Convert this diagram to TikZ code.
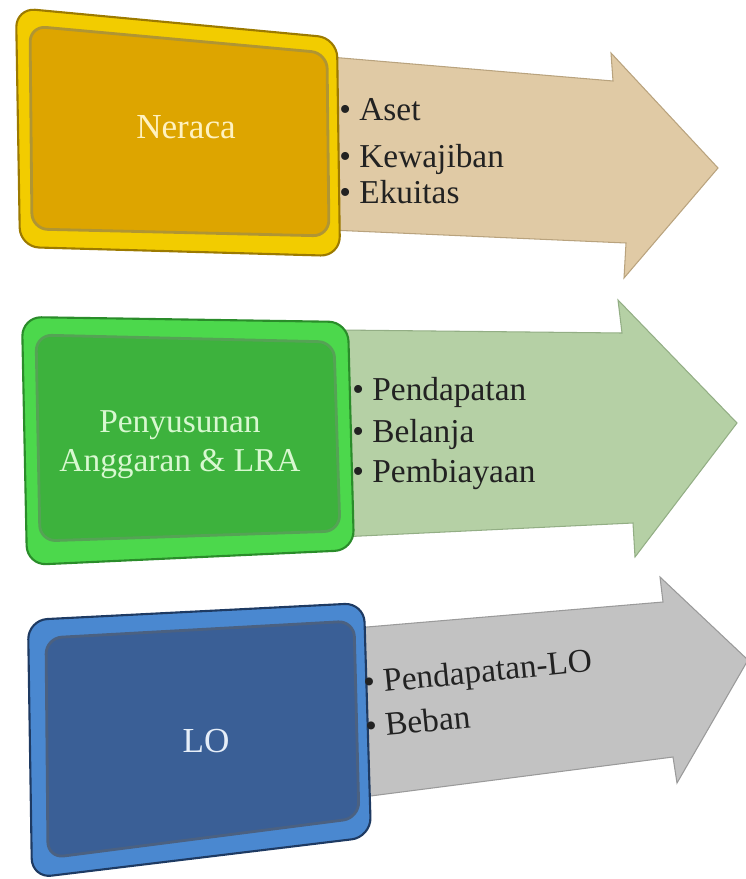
\documentclass[tikz,border=0pt]{standalone}
\usepackage{fontspec}
\setmainfont{Liberation Serif}
\usepackage{tikz}
\definecolor{goldrim}{HTML}{F2CC00}
\definecolor{golddark}{HTML}{9C7A00}
\definecolor{goldface}{HTML}{DDA500}
\definecolor{goldtext}{HTML}{FFF2C0}
\definecolor{tanfill}{HTML}{E0CAA5}
\definecolor{tanedge}{HTML}{B9A37E}
\definecolor{greenrim}{HTML}{4CD84C}
\definecolor{greendark}{HTML}{2A8C2A}
\definecolor{greenface}{HTML}{3DB23D}
\definecolor{greentext}{HTML}{D8F8D0}
\definecolor{sagefill}{HTML}{B5D0A5}
\definecolor{sageedge}{HTML}{93AE85}
\definecolor{bluerim}{HTML}{4A88D0}
\definecolor{bluedark}{HTML}{1E3A62}
\definecolor{blueface}{HTML}{3A5F96}
\definecolor{bluetext}{HTML}{E6EEF8}
\definecolor{grayfill}{HTML}{C2C2C2}
\definecolor{grayedge}{HTML}{9A9A9A}
\definecolor{itemgray}{HTML}{222222}
\tikzset{
  rim/.style={rounded corners=11pt, line width=1.2pt},
  face/.style={rounded corners=9pt, line width=1.6pt},
  blockarrow/.style={line width=0.6pt, line join=miter},
  boxtext/.style={font=\fontsize{20}{22}\selectfont, inner sep=0pt, anchor=base},
  itemtext/.style={font=\fontsize{19}{21}\selectfont, text=itemgray,
    inner sep=0pt, anchor=base west}
}

\begin{document}
\begin{tikzpicture}[x=0.02cm, y=-0.02cm]
  \useasboundingbox (0,0) rectangle (746,879);

  % Neraca
  \draw[blockarrow, fill=tanfill, draw=tanedge]
    (330,57) -- (613,81) -- (611,53) -- (718,168) -- (624,278) -- (626,243) -- (330,230) -- cycle;
  \draw[rim, fill=goldrim, draw=golddark] (16,8) -- (337,38) -- (340,256) -- (20,247) -- cycle;
  \draw[face, fill=goldface, draw=golddark!80] (30,26) -- (327,53) -- (329,236) -- (32,229) -- cycle;
  \node[boxtext, text=goldtext] (neraca) at (186,138) {Neraca};
  \node[itemtext] (aset) at (339,120) {\textbullet\ Aset};
  \node[itemtext] (kewajiban) at (339,167) {\textbullet\ Kewajiban};
  \node[itemtext] (ekuitas) at (339,203) {\textbullet\ Ekuitas};

  % Penyusunan Anggaran & LRA
  \draw[blockarrow, fill=sagefill, draw=sageedge]
    (340,330) -- (622,333) -- (618,300) -- (737,423) -- (635,557) -- (633,523) -- (340,537) -- cycle;
  \draw[rim, fill=greenrim, draw=greendark] (22,317) -- (348,322) -- (354,550) -- (27,565) -- cycle;
  \draw[face, fill=greenface, draw=greendark!80] (36,335) -- (334,342) -- (340,531) -- (40,541) -- cycle;
  \node[boxtext, text=greentext, font=\fontsize{19}{21}\selectfont] (pny1) at (180,432) {Penyusunan};
  \node[boxtext, text=greentext, font=\fontsize{19}{21}\selectfont] (pny2) at (180,471) {Anggaran \& LRA};
  \node[itemtext] (pendapatan) at (352,400) {\textbullet\ Pendapatan};
  \node[itemtext] (belanja) at (352,442) {\textbullet\ Belanja};
  \node[itemtext] (pembiayaan) at (352,482) {\textbullet\ Pembiayaan};

  % LO
  \draw[blockarrow, fill=grayfill, draw=grayedge]
    (355,628) -- (663,602) -- (660,577) -- (748,660) -- (677,783) -- (673,757) -- (355,798) -- cycle;
  \draw[rim, fill=bluerim, draw=bluedark] (28,620) -- (364,603) -- (371,837) -- (32,878) -- cycle;
  \draw[face, fill=blueface, draw=bluedark!80] (46,638) -- (354,621) -- (359,818) -- (48,858) -- cycle;
  \node[boxtext, text=bluetext] (lo) at (206,752) {LO};
  \node[itemtext, rotate=5.7] (pendlo) at (364,694) {\textbullet\ Pendapatan-LO};
  \node[itemtext, rotate=5.7] (beban) at (366,738) {\textbullet\ Beban};
\end{tikzpicture}
\end{document}
